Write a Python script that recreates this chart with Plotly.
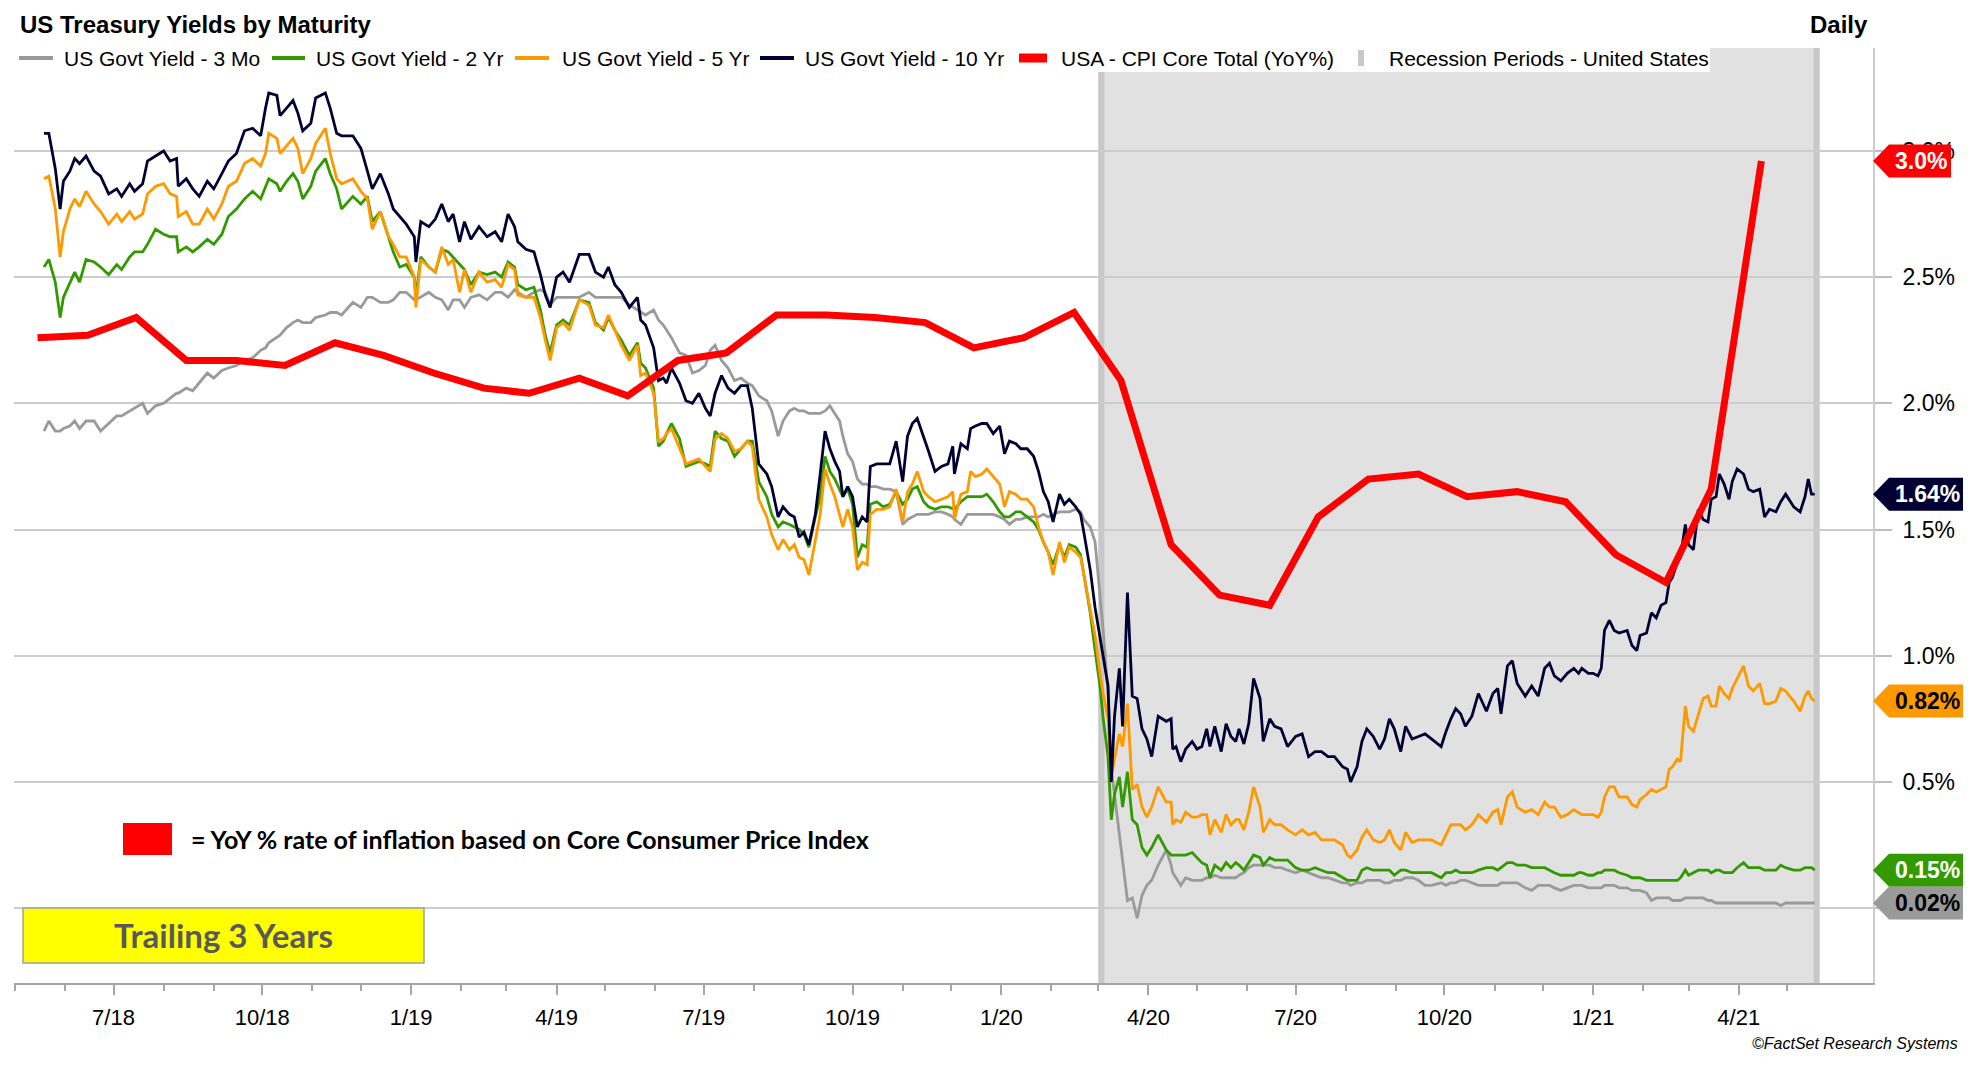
import pandas as pd
import plotly.graph_objects as go

# ------------------------------------------------------------------ data
dates = [
    "2018-05-19","2018-05-22","2018-05-26","2018-05-29","2018-05-31","2018-06-04","2018-06-07","2018-06-10","2018-06-14","2018-06-19",
    "2018-06-23","2018-06-28","2018-07-03","2018-07-06","2018-07-11","2018-07-14","2018-07-19","2018-07-22","2018-07-27","2018-08-01",
    "2018-08-05","2018-08-09","2018-08-10","2018-08-15","2018-08-19","2018-08-23","2018-08-28","2018-09-01","2018-09-06","2018-09-10",
    "2018-09-15","2018-09-20","2018-09-25","2018-09-30","2018-10-03","2018-10-05","2018-10-10","2018-10-12","2018-10-16","2018-10-20",
    "2018-10-23","2018-10-26","2018-10-31","2018-11-03","2018-11-09","2018-11-12","2018-11-16","2018-11-19","2018-11-26","2018-12-01",
    "2018-12-05","2018-12-08","2018-12-13","2018-12-18","2018-12-21","2018-12-25",
    "2018-12-29","2019-01-03","2019-01-04","2019-01-07","2019-01-12","2019-01-16","2019-01-20","2019-01-24","2019-01-27","2019-01-31",
    "2019-02-03","2019-02-07","2019-02-12","2019-02-17","2019-02-22","2019-02-26","2019-03-02","2019-03-06","2019-03-08","2019-03-13",
    "2019-03-18","2019-03-22","2019-03-25","2019-03-28","2019-04-01","2019-04-05","2019-04-09","2019-04-15","2019-04-21","2019-04-25",
    "2019-04-30","2019-05-03","2019-05-07","2019-05-11","2019-05-16","2019-05-21","2019-05-23","2019-05-26","2019-05-31","2019-06-03",
    "2019-06-06","2019-06-08","2019-06-11","2019-06-16","2019-06-20","2019-06-24","2019-06-28","2019-07-02","2019-07-05","2019-07-08",
    "2019-07-12","2019-07-16","2019-07-20","2019-07-24","2019-07-28","2019-07-31","2019-08-04","2019-08-09","2019-08-12","2019-08-16",
    "2019-08-19","2019-08-23",
    "2019-08-26","2019-08-29","2019-09-01","2019-09-04","2019-09-08","2019-09-11","2019-09-14","2019-09-17","2019-09-20","2019-09-23",
    "2019-09-25","2019-09-28","2019-10-01","2019-10-04","2019-10-07","2019-10-10","2019-10-12","2019-10-16","2019-10-20","2019-10-24",
    "2019-10-28","2019-11-01","2019-11-04","2019-11-07","2019-11-10","2019-11-14","2019-11-17","2019-11-21","2019-11-25","2019-11-29",
    "2019-12-02","2019-12-03","2019-12-07","2019-12-11","2019-12-13","2019-12-16","2019-12-20","2019-12-23","2019-12-27","2019-12-31",
    "2020-01-03","2020-01-06","2020-01-10","2020-01-13","2020-01-17","2020-01-21","2020-01-24","2020-01-27","2020-01-30","2020-02-02",
    "2020-02-06","2020-02-09","2020-02-12","2020-02-16","2020-02-19","2020-02-21","2020-02-25","2020-02-28","2020-03-02","2020-03-04",
    "2020-03-07","2020-03-09","2020-03-11","2020-03-14","2020-03-16","2020-03-19","2020-03-22","2020-03-25","2020-03-28","2020-03-31",
    "2020-04-03","2020-04-07","2020-04-12",
    "2020-04-15","2020-04-16","2020-04-18","2020-04-21","2020-04-24","2020-04-28","2020-05-01","2020-05-04","2020-05-07","2020-05-09",
    "2020-05-12","2020-05-16","2020-05-19","2020-05-22","2020-05-25","2020-05-27","2020-05-30","2020-06-02","2020-06-05","2020-06-09",
    "2020-06-11","2020-06-15","2020-06-18","2020-06-22","2020-06-26","2020-07-01","2020-07-05","2020-07-09","2020-07-13","2020-07-17",
    "2020-07-21","2020-07-25","2020-07-30","2020-08-02","2020-08-04","2020-08-08","2020-08-11","2020-08-14","2020-08-18","2020-08-22",
    "2020-08-25","2020-08-28","2020-08-31","2020-09-04","2020-09-07","2020-09-11","2020-09-15","2020-09-19","2020-09-23","2020-09-29",
    "2020-10-02","2020-10-05","2020-10-08","2020-10-11","2020-10-14","2020-10-18","2020-10-22","2020-10-27","2020-10-31","2020-11-03",
    "2020-11-05","2020-11-09","2020-11-12","2020-11-15","2020-11-20","2020-11-24","2020-11-28","2020-12-02","2020-12-05",
    "2020-12-08","2020-12-12","2020-12-16","2020-12-20","2020-12-23","2020-12-25","2020-12-29","2021-01-01","2021-01-04","2021-01-06",
    "2021-01-08","2021-01-11","2021-01-14","2021-01-17","2021-01-22","2021-01-25","2021-01-28","2021-01-30","2021-02-03","2021-02-06",
    "2021-02-09","2021-02-12","2021-02-15","2021-02-17","2021-02-19","2021-02-22","2021-02-24","2021-02-27","2021-03-01","2021-03-04",
    "2021-03-07","2021-03-10","2021-03-13","2021-03-15","2021-03-18","2021-03-20","2021-03-23","2021-03-26","2021-03-28","2021-03-31",
    "2021-04-04","2021-04-07","2021-04-10","2021-04-14","2021-04-17","2021-04-20","2021-04-24","2021-04-27","2021-04-30","2021-05-05",
    "2021-05-09","2021-05-12","2021-05-14","2021-05-16","2021-05-18",
]

yield_10y = [
    3.07,3.07,2.93,2.77,2.88,2.92,2.97,2.95,2.98,2.92, 2.90,2.83,2.85,2.82,2.87,2.84,2.87,2.96,2.98,3.00,
    2.96,2.97,2.86,2.89,2.85,2.82,2.88,2.85,2.91,2.96, 2.99,3.08,3.09,3.06,3.17,3.23,3.22,3.14,3.17,3.20,
    3.15,3.08,3.11,3.21,3.23,3.17,3.07,3.06,3.06,3.01, 2.92,2.85,2.91,2.83,2.77,2.74,
    2.71,2.66,2.56,2.72,2.70,2.73,2.79,2.72,2.75,2.64, 2.72,2.65,2.70,2.66,2.68,2.64,2.75,2.70,2.64,2.61,
    2.60,2.51,2.43,2.38,2.50,2.52,2.48,2.59,2.59,2.52, 2.50,2.54,2.47,2.44,2.38,2.42,2.33,2.31,2.22,2.09,
    2.10,2.08,2.14,2.08,2.01,2.00,2.04,1.98,1.95,2.04, 2.11,2.06,2.04,2.07,2.07,1.98,1.76,1.72,1.67,1.55,
    1.59,1.56,
    1.55,1.47,1.49,1.44,1.56,1.72,1.89,1.82,1.77,1.73, 1.63,1.67,1.63,1.51,1.55,1.53,1.75,1.76,1.76,1.76,
    1.85,1.69,1.87,1.92,1.94,1.87,1.81,1.73,1.75,1.76, 1.83,1.72,1.84,1.82,1.90,1.91,1.92,1.92,1.88,1.91,
    1.80,1.85,1.84,1.82,1.82,1.79,1.73,1.65,1.61,1.53, 1.64,1.60,1.62,1.59,1.56,1.49,1.34,1.19,1.08,1.00,
    0.88,0.50,0.76,0.95,0.72,1.25,0.84,0.83,0.71,0.67, 0.60,0.76,0.74,
    0.75,0.63,0.64,0.58,0.63,0.66,0.63,0.64,0.71,0.64, 0.72,0.62,0.73,0.68,0.66,0.71,0.65,0.73,0.91,0.83,
    0.66,0.75,0.72,0.71,0.64,0.68,0.69,0.60,0.62,0.62, 0.60,0.60,0.56,0.55,0.50,0.56,0.66,0.71,0.68,0.63,
    0.67,0.75,0.71,0.62,0.72,0.67,0.68,0.69,0.67,0.64, 0.70,0.75,0.79,0.77,0.72,0.76,0.85,0.78,0.85,0.87,
    0.77,0.96,0.98,0.89,0.84,0.88,0.84,0.95,0.97,
    0.92,0.90,0.93,0.95,0.93,0.95,0.93,0.93,0.92,0.95, 1.10,1.14,1.10,1.09,1.10,1.04,1.02,1.08,1.09,1.17,
    1.15,1.20,1.21,1.29,1.31,1.37,1.39,1.52,1.44,1.42, 1.58,1.54,1.53,1.62,1.63,1.72,1.68,1.62,1.69,1.74,
    1.72,1.66,1.65,1.66,1.55,1.58,1.57,1.61,1.64,1.59, 1.57,1.63,1.70,1.64,1.64,
]

yield_5y = [
    2.89,2.90,2.77,2.58,2.68,2.77,2.81,2.78,2.84,2.79, 2.76,2.71,2.75,2.72,2.76,2.73,2.75,2.83,2.86,2.87,
    2.83,2.82,2.74,2.76,2.71,2.71,2.77,2.73,2.79,2.86, 2.88,2.95,2.97,2.94,2.99,3.07,3.05,2.99,3.02,3.05,
    3.01,2.91,2.97,3.03,3.09,2.99,2.89,2.87,2.89,2.84, 2.81,2.69,2.76,2.66,2.63,2.58,
    2.58,2.50,2.38,2.57,2.54,2.52,2.62,2.55,2.57,2.44, 2.53,2.44,2.52,2.48,2.49,2.46,2.55,2.53,2.43,2.42,
    2.42,2.34,2.25,2.17,2.30,2.32,2.29,2.41,2.39,2.31, 2.30,2.35,2.29,2.23,2.17,2.23,2.11,2.12,2.04,1.85,
    1.86,1.88,1.90,1.82,1.76,1.77,1.78,1.75,1.73,1.86, 1.88,1.86,1.81,1.82,1.85,1.83,1.62,1.55,1.48,1.42,
    1.46,1.42,
    1.44,1.39,1.38,1.32,1.46,1.56,1.74,1.68,1.63,1.56, 1.51,1.58,1.51,1.34,1.37,1.36,1.56,1.58,1.58,1.59,
    1.66,1.53,1.65,1.68,1.73,1.65,1.63,1.61,1.62,1.63, 1.65,1.54,1.64,1.65,1.73,1.71,1.72,1.74,1.71,1.68,
    1.59,1.65,1.64,1.62,1.62,1.59,1.51,1.45,1.41,1.32, 1.45,1.37,1.43,1.41,1.39,1.32,1.17,1.08,0.93,0.85,
    0.75,0.52,0.59,0.69,0.64,0.81,0.47,0.49,0.40,0.36, 0.40,0.48,0.42,
    0.42,0.33,0.35,0.34,0.38,0.36,0.36,0.37,0.37,0.29, 0.35,0.30,0.37,0.33,0.35,0.35,0.31,0.38,0.48,0.40,
    0.30,0.35,0.33,0.33,0.31,0.29,0.31,0.29,0.30,0.27, 0.27,0.27,0.25,0.21,0.20,0.23,0.28,0.31,0.27,0.26,
    0.27,0.31,0.26,0.23,0.30,0.26,0.27,0.27,0.27,0.25, 0.29,0.33,0.33,0.33,0.31,0.33,0.37,0.34,0.38,0.39,
    0.33,0.44,0.46,0.40,0.38,0.39,0.37,0.42,0.40,
    0.40,0.36,0.37,0.39,0.38,0.37,0.37,0.37,0.36,0.38, 0.44,0.48,0.48,0.44,0.44,0.41,0.40,0.43,0.45,0.47,
    0.46,0.47,0.48,0.55,0.56,0.59,0.58,0.80,0.72,0.70, 0.77,0.83,0.84,0.80,0.80,0.88,0.85,0.83,0.87,0.91,
    0.96,0.88,0.86,0.89,0.81,0.81,0.82,0.87,0.86,0.82, 0.78,0.84,0.86,0.83,0.82,
]

yield_2y = [
    2.54,2.57,2.48,2.34,2.42,2.48,2.52,2.48,2.57,2.56, 2.54,2.51,2.55,2.53,2.58,2.60,2.60,2.63,2.69,2.67,
    2.66,2.66,2.60,2.62,2.60,2.62,2.65,2.63,2.67,2.74, 2.77,2.81,2.84,2.81,2.86,2.89,2.87,2.84,2.88,2.91,
    2.88,2.81,2.86,2.92,2.97,2.91,2.85,2.77,2.82,2.79, 2.82,2.72,2.76,2.66,2.60,2.54,
    2.55,2.50,2.42,2.58,2.54,2.52,2.61,2.60,2.58,2.55, 2.53,2.47,2.52,2.51,2.52,2.50,2.56,2.54,2.47,2.45,
    2.46,2.37,2.27,2.20,2.31,2.33,2.31,2.41,2.40,2.32, 2.29,2.34,2.29,2.25,2.19,2.24,2.16,2.14,2.06,1.83,
    1.85,1.88,1.92,1.86,1.75,1.76,1.77,1.76,1.75,1.89, 1.86,1.85,1.79,1.82,1.85,1.85,1.69,1.63,1.56,1.51,
    1.53,1.52,
    1.51,1.50,1.48,1.43,1.55,1.63,1.79,1.73,1.70,1.66, 1.63,1.66,1.60,1.39,1.44,1.43,1.60,1.61,1.59,1.60,
    1.65,1.60,1.62,1.66,1.67,1.61,1.59,1.58,1.59,1.59, 1.58,1.58,1.61,1.63,1.63,1.63,1.63,1.64,1.61,1.57,
    1.55,1.55,1.57,1.57,1.55,1.53,1.50,1.45,1.41,1.36, 1.44,1.39,1.44,1.43,1.40,1.32,1.17,1.02,0.88,0.75,
    0.60,0.35,0.45,0.52,0.40,0.54,0.35,0.33,0.24,0.21, 0.24,0.29,0.23,
    0.21,0.21,0.21,0.21,0.21,0.22,0.20,0.18,0.17,0.12, 0.17,0.15,0.18,0.16,0.18,0.17,0.15,0.18,0.21,0.20,
    0.17,0.20,0.19,0.19,0.19,0.16,0.15,0.15,0.16,0.15, 0.14,0.14,0.12,0.11,0.11,0.11,0.15,0.16,0.15,0.15,
    0.15,0.15,0.13,0.15,0.15,0.14,0.14,0.14,0.14,0.12, 0.14,0.14,0.15,0.14,0.14,0.14,0.15,0.16,0.16,0.15,
    0.16,0.18,0.18,0.17,0.17,0.16,0.16,0.16,0.15,
    0.14,0.13,0.13,0.13,0.14,0.14,0.13,0.13,0.14,0.14, 0.15,0.15,0.15,0.14,0.13,0.12,0.12,0.12,0.11,0.11,
    0.11,0.11,0.11,0.11,0.11,0.11,0.12,0.15,0.13,0.14, 0.15,0.15,0.15,0.14,0.15,0.15,0.14,0.14,0.14,0.16,
    0.18,0.16,0.16,0.16,0.15,0.15,0.15,0.17,0.16,0.15, 0.15,0.16,0.16,0.16,0.15,
]

yield_3m = [
    1.89,1.93,1.89,1.89,1.90,1.91,1.93,1.90,1.93,1.93, 1.89,1.92,1.95,1.95,1.97,1.98,2.00,1.96,1.99,2.00,
    2.02,2.04,2.04,2.06,2.05,2.08,2.12,2.10,2.13,2.14, 2.15,2.17,2.18,2.21,2.22,2.24,2.26,2.27,2.30,2.32,
    2.33,2.32,2.32,2.34,2.35,2.36,2.36,2.35,2.40,2.38, 2.42,2.42,2.40,2.40,2.41,2.44,
    2.44,2.41,2.41,2.42,2.44,2.42,2.41,2.37,2.41,2.41, 2.38,2.42,2.43,2.41,2.44,2.44,2.42,2.45,2.44,2.42,
    2.44,2.45,2.44,2.39,2.42,2.42,2.42,2.42,2.44,2.42, 2.42,2.42,2.42,2.42,2.39,2.37,2.36,2.35,2.37,2.33,
    2.31,2.29,2.26,2.20,2.19,2.12,2.13,2.15,2.21,2.23, 2.17,2.14,2.09,2.10,2.08,2.07,2.03,2.01,1.97,1.87,
    1.93,1.97,
    1.98,1.97,1.97,1.96,1.96,1.96,1.97,1.99,1.96,1.93, 1.87,1.80,1.77,1.70,1.68,1.68,1.67,1.67,1.66,1.66,
    1.65,1.52,1.54,1.55,1.56,1.56,1.56,1.57,1.57,1.56, 1.55,1.54,1.52,1.56,1.56,1.56,1.56,1.56,1.56,1.55,
    1.54,1.52,1.54,1.54,1.55,1.55,1.55,1.56,1.55,1.56, 1.57,1.57,1.57,1.58,1.57,1.54,1.51,1.45,1.25,1.10,
    0.85,0.55,0.45,0.30,0.20,0.03,0.04,-0.04,0.05,0.09, 0.11,0.17,0.23,
    0.17,0.14,0.12,0.09,0.12,0.11,0.11,0.11,0.12,0.12, 0.13,0.12,0.12,0.12,0.12,0.13,0.14,0.16,0.17,0.17,
    0.17,0.17,0.16,0.16,0.15,0.14,0.15,0.14,0.13,0.12, 0.12,0.11,0.10,0.10,0.09,0.10,0.10,0.11,0.11,0.11,
    0.10,0.10,0.11,0.11,0.12,0.12,0.11,0.09,0.09,0.10, 0.09,0.10,0.10,0.11,0.11,0.10,0.09,0.09,0.09,0.09,
    0.10,0.10,0.10,0.10,0.08,0.07,0.09,0.09,0.09,
    0.08,0.07,0.08,0.09,0.09,0.09,0.08,0.08,0.08,0.08, 0.09,0.09,0.09,0.08,0.08,0.07,0.07,0.07,0.06,0.03,
    0.04,0.04,0.04,0.04,0.03,0.03,0.03,0.04,0.04,0.04, 0.04,0.04,0.03,0.03,0.02,0.02,0.02,0.02,0.02,0.02,
    0.02,0.02,0.02,0.02,0.02,0.02,0.02,0.01,0.02,0.02, 0.02,0.02,0.02,0.02,0.02,
]

cpi_months = pd.date_range("2018-05-01", periods=36, freq="MS") + pd.Timedelta(days=14)
cpi_core_yoy = [
    2.26, 2.27, 2.34, 2.17, 2.17, 2.15, 2.24, 2.19, 2.12, 2.06, 2.04, 2.10,
    2.03, 2.17, 2.20, 2.35, 2.35, 2.34, 2.32, 2.22, 2.26, 2.36, 2.09, 1.44,
    1.24, 1.20, 1.55, 1.70, 1.72, 1.63, 1.65, 1.61, 1.40, 1.29, 1.66, 2.96,
]

recession_start = ["2020-03-01"]
recession_end = ["2021-05-21"]

quarter_ticks = ["2018-07-01", "2018-10-01", "2019-01-01", "2019-04-01", "2019-07-01", "2019-10-01",
                 "2020-01-01", "2020-04-01", "2020-07-01", "2020-10-01", "2021-01-01", "2021-04-01"]
quarter_labels = ["7/18", "10/18", "1/19", "4/19", "7/19", "10/19",
                  "1/20", "4/20", "7/20", "10/20", "1/21", "4/21"]
month_ticks = pd.date_range("2018-05-01", "2021-05-01", freq="MS")
y_ticks = [0.0, 0.5, 1.0, 1.5, 2.0, 2.5, 3.0]
y_tick_labels = ["", "0.5%", "1.0%", "1.5%", "2.0%", "2.5%", "3.0%"]

series_names = ["US Govt Yield - 3 Mo", "US Govt Yield - 2 Yr", "US Govt Yield - 5 Yr",
                "US Govt Yield - 10 Yr", "USA - CPI Core Total (YoY%)", "Recession Periods - United States"]

for s in (yield_10y, yield_5y, yield_2y, yield_3m):
    assert len(s) == len(dates), (len(s), len(dates))

# ------------------------------------------------------------------ styling
C3M, C2Y, C5Y, C10Y, CCPI = "#9a9a9a", "#339900", "#ff9900", "#000033", "#ff0000"
SHADE, SHADE_EDGE, GRID = "#e1e1e1", "#c8c8c8", "#cccccc"
ARIAL = "Arial, Liberation Sans, sans-serif"
LATO = "Lato, Carlito, Open Sans, sans-serif"

OFF = 8                       # browser body margin
W, H = 1971 - 2 * OFF, 1068 - 2 * OFF
PL, PR, PT, PB = 14, 1873, 48, 983   # plot area in page pixels


def xp(px):
    return (px - PL) / (PR - PL)


def yp(py):
    return (PB - py) / (PB - PT)


fig = go.Figure()

series = [(yield_3m, C3M), (yield_2y, C2Y), (yield_5y, C5Y), (yield_10y, C10Y)]
for (vals, col), name in zip(series, series_names[:4]):
    fig.add_trace(go.Scatter(x=dates, y=vals, mode="lines", name=name,
                             line=dict(color=col, width=2.8), showlegend=False))
fig.add_trace(go.Scatter(x=cpi_months, y=cpi_core_yoy, mode="lines", name=series_names[4],
                         line=dict(color=CCPI, width=7), showlegend=False))

shapes = []
# recession shading
for rs, re_ in zip(recession_start, recession_end):
    shapes.append(dict(type="rect", xref="x", yref="paper", x0=rs, x1=re_, y0=0, y1=1,
                       fillcolor=SHADE, line=dict(width=0), layer="below"))
    shapes.append(dict(type="rect", xref="x", yref="paper", xsizemode="pixel", xanchor=rs,
                       x0=0, x1=6, y0=0, y1=1, fillcolor=SHADE_EDGE, line=dict(width=0), layer="below"))
    shapes.append(dict(type="rect", xref="x", yref="paper", xsizemode="pixel", xanchor=re_,
                       x0=-6, x1=0, y0=0, y1=1, fillcolor=SHADE_EDGE, line=dict(width=0), layer="below"))

# white legend background over the shading
shapes.append(dict(type="rect", xref="paper", yref="paper", x0=xp(1090), x1=xp(1710),
                   y0=yp(72), y1=yp(45), fillcolor="white", line=dict(width=0), layer="above"))

# legend symbols
LEG_Y = 58
for (x0, x1), col in zip([(19, 53), (272, 305), (515, 549), (760, 794)], [C3M, C2Y, C5Y, C10Y]):
    shapes.append(dict(type="line", xref="paper", yref="paper", x0=xp(x0), x1=xp(x1),
                       y0=yp(LEG_Y), y1=yp(LEG_Y), line=dict(color=col, width=4), layer="above"))
shapes.append(dict(type="line", xref="paper", yref="paper", x0=xp(1019), x1=xp(1047),
                   y0=yp(LEG_Y), y1=yp(LEG_Y), line=dict(color=CCPI, width=9), layer="above"))
shapes.append(dict(type="rect", xref="paper", yref="paper", x0=xp(1358), x1=xp(1364),
                   y0=yp(66), y1=yp(50), fillcolor=SHADE_EDGE, line=dict(width=0), layer="above"))

# red key square and yellow box
shapes.append(dict(type="rect", xref="paper", yref="paper", x0=xp(123), x1=xp(172),
                   y0=yp(855), y1=yp(823), fillcolor=CCPI, line=dict(width=0), layer="above"))
shapes.append(dict(type="rect", xref="paper", yref="paper", x0=xp(23), x1=xp(424),
                   y0=yp(963), y1=yp(908), fillcolor="#ffff00",
                   line=dict(color="#a0a0a0", width=1.5), layer="above"))

# outer frame (top & left)
shapes.append(dict(type="line", xref="paper", yref="paper", x0=xp(0), x1=xp(1971),
                   y0=yp(2), y1=yp(2), line=dict(color="#a0a0a0", width=2), layer="above"))
shapes.append(dict(type="line", xref="paper", yref="paper", x0=xp(2), x1=xp(2),
                   y0=yp(0), y1=yp(1068), line=dict(color="#a0a0a0", width=2), layer="above"))

# last-value badges
badges = [
    (cpi_core_yoy[-1], CCPI, "white", f"{cpi_core_yoy[-1]:.1f}%", 78),
    (yield_10y[-1], C10Y, "white", f"{yield_10y[-1]:.2f}%", 90),
    (yield_5y[-1], C5Y, "black", f"{yield_5y[-1]:.2f}%", 90),
    (yield_2y[-1], C2Y, "white", f"{yield_2y[-1]:.2f}%", 90),
    (yield_3m[-1], C3M, "black", f"{yield_3m[-1]:.2f}%", 90),
]
annotations = []
for val, col, tcol, label, bw in badges:
    path = f"M0,0 L16,16.5 L{bw},16.5 L{bw},-16.5 L16,-16.5 Z"
    shapes.append(dict(type="path", xref="paper", yref="y", xsizemode="pixel", ysizemode="pixel",
                       xanchor=1, yanchor=val, path=path, fillcolor=col, line=dict(width=0),
                       layer="above"))
    annotations.append(dict(x=1, xref="paper", y=val, yref="y", xanchor="center", yanchor="middle",
                            xshift=(16 + bw) / 2 + 1, text=f"<b>{label}</b>", showarrow=False,
                            font=dict(family=ARIAL, size=23, color=tcol)))

# texts
annotations.append(dict(x=xp(18), y=yp(25), xref="paper", yref="paper", xanchor="left", yanchor="middle",
                        text="<b>US Treasury Yields by Maturity</b>", showarrow=False,
                        font=dict(family=ARIAL, size=24, color="black")))
annotations.append(dict(x=xp(1870), y=yp(25), xref="paper", yref="paper", xanchor="right", yanchor="middle",
                        text="<b>Daily</b>", showarrow=False, font=dict(family=ARIAL, size=24, color="black")))
for xl, name in zip([62, 314, 560, 803, 1059, 1387], series_names):
    annotations.append(dict(x=xp(xl), y=yp(LEG_Y), xref="paper", yref="paper", xanchor="left",
                            yanchor="middle", text=name, showarrow=False,
                            font=dict(family=ARIAL, size=21, color="black")))
annotations.append(dict(x=xp(189), y=yp(839), xref="paper", yref="paper", xanchor="left", yanchor="middle",
                        text="<b>= YoY % rate of inflation based on Core Consumer Price Index</b>",
                        showarrow=False, font=dict(family=LATO, size=25, color="black")))
annotations.append(dict(x=xp(223), y=yp(935), xref="paper", yref="paper", xanchor="center", yanchor="middle",
                        text="<b>Trailing 3 Years</b>", showarrow=False,
                        font=dict(family=LATO, size=33, color="#595959")))
annotations.append(dict(x=xp(1960), y=yp(1043), xref="paper", yref="paper", xanchor="right", yanchor="middle",
                        text="<i>©FactSet Research Systems</i>", showarrow=False,
                        font=dict(family=ARIAL, size=16, color="black")))

fig.update_layout(
    width=W, height=H,
    margin=dict(l=PL - OFF, r=(W + OFF) - PR, t=PT - OFF, b=(H + OFF) - PB, pad=0),
    paper_bgcolor="white", plot_bgcolor="white",
    showlegend=False,
    shapes=shapes, annotations=annotations,
    xaxis=dict(
        type="date", range=["2018-04-30 11:00", "2021-06-23 01:00"],
        tickvals=quarter_ticks, ticktext=quarter_labels,
        ticks="outside", ticklen=10, tickwidth=1.5, tickcolor="#a6a6a6",
        showline=True, linecolor="#a6a6a6", linewidth=2,
        showgrid=False, zeroline=False, ticklabelstandoff=4,
        tickfont=dict(family=ARIAL, size=22, color="black"),
        minor=dict(tickvals=list(month_ticks), ticks="outside", ticklen=6, tickwidth=1.5,
                   tickcolor="#a6a6a6", showgrid=False),
    ),
    yaxis=dict(
        side="right", range=[-0.297, 3.408],
        tickvals=y_ticks, ticktext=y_tick_labels,
        ticks="outside", ticklen=17, tickwidth=1.5, tickcolor="#bdbdbd",
        showgrid=True, gridcolor=GRID, gridwidth=1.5,
        showline=True, linecolor=GRID, linewidth=2, zeroline=False,
        ticklabelstandoff=6,
        tickfont=dict(family=ARIAL, size=23, color="black"),
    ),
)

fig.write_html("out.html")
